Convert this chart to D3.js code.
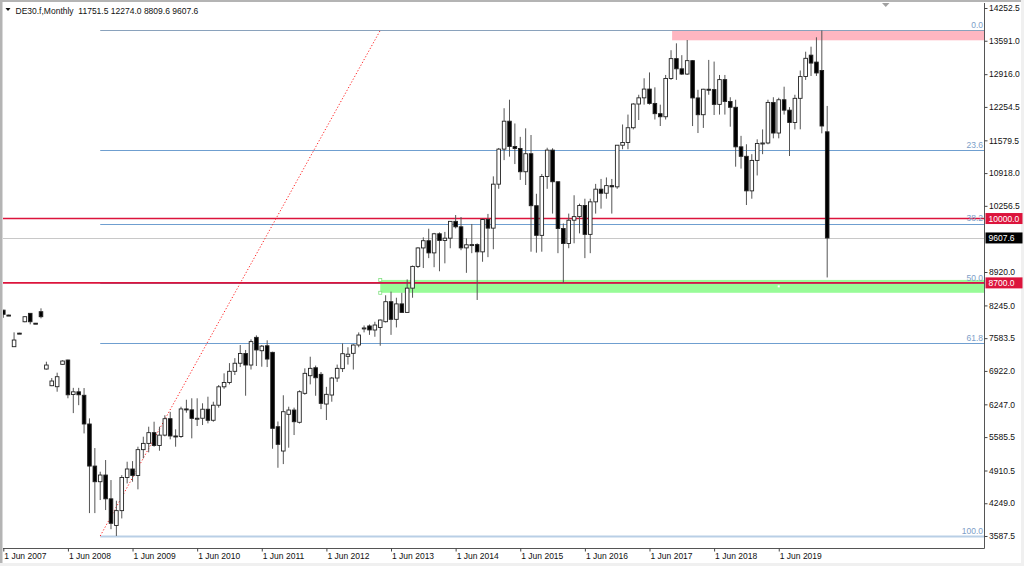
<!DOCTYPE html>
<html><head><meta charset="utf-8">
<script src="https://cdn.jsdelivr.net/npm/d3@7"></script>
<style>
html,body{margin:0;padding:0;background:#fff;}
svg{display:block;font-family:"Liberation Sans",Arial,sans-serif;}
</style></head><body>
<svg id="chart" width="1024" height="566"></svg>
<script>
// ---------- data ----------
const months = [
"Jun 2007","Jul 2007","Aug 2007","Sep 2007","Oct 2007","Nov 2007","Dec 2007",
"Jan 2008","Feb 2008","Mar 2008","Apr 2008","May 2008","Jun 2008","Jul 2008","Aug 2008","Sep 2008","Oct 2008","Nov 2008","Dec 2008",
"Jan 2009","Feb 2009","Mar 2009","Apr 2009","May 2009","Jun 2009","Jul 2009","Aug 2009","Sep 2009","Oct 2009","Nov 2009","Dec 2009",
"Jan 2010","Feb 2010","Mar 2010","Apr 2010","May 2010","Jun 2010","Jul 2010","Aug 2010","Sep 2010","Oct 2010","Nov 2010","Dec 2010",
"Jan 2011","Feb 2011","Mar 2011","Apr 2011","May 2011","Jun 2011","Jul 2011","Aug 2011","Sep 2011","Oct 2011","Nov 2011","Dec 2011",
"Jan 2012","Feb 2012","Mar 2012","Apr 2012","May 2012","Jun 2012","Jul 2012","Aug 2012","Sep 2012","Oct 2012","Nov 2012","Dec 2012",
"Jan 2013","Feb 2013","Mar 2013","Apr 2013","May 2013","Jun 2013","Jul 2013","Aug 2013","Sep 2013","Oct 2013","Nov 2013","Dec 2013",
"Jan 2014","Feb 2014","Mar 2014","Apr 2014","May 2014","Jun 2014","Jul 2014","Aug 2014","Sep 2014","Oct 2014","Nov 2014","Dec 2014",
"Jan 2015","Feb 2015","Mar 2015","Apr 2015","May 2015","Jun 2015","Jul 2015","Aug 2015","Sep 2015","Oct 2015","Nov 2015","Dec 2015",
"Jan 2016","Feb 2016","Mar 2016","Apr 2016","May 2016","Jun 2016","Jul 2016","Aug 2016","Sep 2016","Oct 2016","Nov 2016","Dec 2016",
"Jan 2017","Feb 2017","Mar 2017","Apr 2017","May 2017","Jun 2017","Jul 2017","Aug 2017","Sep 2017","Oct 2017","Nov 2017","Dec 2017",
"Jan 2018","Feb 2018","Mar 2018","Apr 2018","May 2018","Jun 2018","Jul 2018","Aug 2018","Sep 2018","Oct 2018","Nov 2018","Dec 2018",
"Jan 2019","Feb 2019","Mar 2019","Apr 2019","May 2019","Jun 2019","Jul 2019","Aug 2019","Sep 2019","Oct 2019","Nov 2019","Dec 2019",
"Jan 2020","Feb 2020","Mar 2020"];

const open = [
8150,8050,7411,7685,7915,8085,7886,
8118,6960,6623,6603,7055,7142,6445,6500,6430,5850,5000,4684,
4819,4338,3800,4100,4769,4941,4809,5332,5458,5675,5415,5625,
5957,5608,5598,6154,6136,5964,5966,6148,5925,6229,6601,6688,
6914,7077,7273,7041,7600,7330,7430,7297,5795,5304,6045,6132,
5884,6469,6825,6986,6853,6253,6435,6778,6968,7216,7277,7445,
7770,7830,7748,7800,7916,8320,7964,8276,8104,8594,9033,9406,
9552,9306,9692,9556,9603,9943,9833,9407,9470,9474,9327,9981,
9806,10694,11402,11966,11454,11414,10945,11309,10259,9660,10850,11382,
10743,9798,9495,9966,10039,10263,9680,10337,10593,10511,10665,10640,
11481,11535,11834,12313,12438,12615,12325,12118,12056,12829,13230,13024,
12918,13189,12436,12097,12612,12605,12306,12806,12364,12247,11448,11257,
10559,11174,11516,11526,12345,11727,12399,12189,11939,12428,12869,13300,
13160,12990,11751.5];

const high = [
8155,8058,7701,7692,8025,8090,7890,
8186,7108,6778,6886,7135,7150,6580,6580,6576,5964,5364,4886,
5122,4718,4300,4816,5088,5100,5391,5593,5795,5896,5795,6026,
6094,5742,6199,6340,6369,6369,6268,6401,6300,6637,6873,7080,
7180,7445,7345,7560,7640,7445,7540,7310,5900,6430,6199,6180,
6530,6974,7209,7030,6900,6600,6800,7050,7478,7400,7460,7700,
7840,7860,7915,7960,8450,8523,8400,8500,8770,9050,9420,9620,
9794,9710,9720,9730,9950,10071,10030,9600,9890,9500,10000,10093,
10852,11425,12228,12400,11920,11650,11822,11687,10500,10900,11430,11420,
10750,9900,10100,10470,10300,10400,10400,10700,10800,10830,10800,11485,
11900,12100,12330,12500,12833,12951,12650,12300,12900,13400,13539,13300,
13606,13200,12600,12620,13204,13170,12900,12900,12450,12400,11670,11500,
11300,11600,11800,12400,12450,12440,12663,12250,12500,12990,13370,13471,
13661,13800,12274.0];

const low = [
7995,8042,7405,7678,7905,7863,7878,
7983,6950,6615,6502,7050,6369,6070,6230,5660,4050,4050,4314,
4112,3725,3588,3942,4650,4684,4530,5156,5278,5391,5310,5600,
5540,5391,5570,6078,5560,5809,5829,5863,5896,6180,6560,6650,
6839,7000,6421,6950,7021,7007,7000,5350,4966,5040,5371,5627,
5860,6440,6650,6420,6150,5930,6300,6700,6900,7050,6950,7400,
7700,7650,7612,7430,7900,7650,7800,8100,8100,8400,9000,9000,
9200,9017,8935,9095,9400,9800,9360,8903,9300,8355,9127,9220,
9380,10600,11180,11250,11100,10780,10677,9330,9310,9330,10600,10100,
9300,8700,9400,9500,9700,9200,9300,10100,10200,10400,10100,10600,
11400,11400,11800,11990,12300,12300,12000,11869,12000,12800,12800,12900,
12900,11868,11727,11830,12500,12091,12100,12100,11855,11047,11009,10273,
10400,10870,11300,11500,11620,11620,12100,11263,11800,11802,12800,12879,
12880,11721,8809.6];

const close = [
8065,8046,7546,7681,8017,7915,7883,
8017,7041,6718,6805,7122,6440,6500,6440,5850,5000,4684,4819,
4338,3844,4100,4769,4941,4809,5332,5458,5675,5415,5625,5957,
5608,5598,6154,6136,5964,5966,6148,5925,6229,6601,6688,6914,
7077,7273,7041,7514,7345,7423,7162,5762,5439,6098,6132,5896,
6502,6873,6974,6784,6267,6449,6778,6974,7270,7260,7445,7647,
7790,7750,7849,7950,8320,7964,8276,8104,8594,9033,9406,9552,
9306,9692,9556,9603,9943,9833,9407,9470,9474,9327,9981,9806,
10694,11402,11966,11454,11414,10945,11309,10259,9660,10850,11382,10743,
9798,9495,9966,10039,10263,9680,10337,10593,10511,10665,10640,11481,
11535,11834,12313,12438,12615,12325,12118,12056,12829,13230,13024,12918,
13189,12436,12097,12612,12605,12306,12806,12364,12247,11448,11257,10559,
11174,11516,11526,12345,11727,12399,12189,11939,12428,12867,13236,13140,
12940,11869,9607.6];

const xTickLabels = ["1 Jun 2007","1 Jun 2008","1 Jun 2009","1 Jun 2010","1 Jun 2011","1 Jun 2012","1 Jun 2013","1 Jun 2014","1 Jun 2015","1 Jun 2016","1 Jun 2017","1 Jun 2018","1 Jun 2019"];
const xTickIndex = [0,12,24,36,48,60,72,84,96,108,120,132,144];
const yTickValues = [14252.5,13591.0,12916.0,12254.5,11579.5,10918.0,10256.5,8920.0,8245.0,7583.5,6922.0,6247.0,5585.5,4910.5,4249.0,3587.5];

const fibLevels = [0.0,23.6,38.2,50.0,61.8,100.0];
const fibHigh = 13800, fibLow = 3588, fibStartIndex = 18;
const trendStartIndex = 18, trendStartValue = 3588, trendEndIndex = 70, trendEndValue = 13800;
const levelLines = [10000.0, 8700.0];
const lastPrice = 9607.6;
const resistanceZone = [124.2, 13800, 13600];   // start index, top, bottom
const supportZone = [70, 8760, 8500];
const header = "DE30.f,Monthly  11751.5 12274.0 8809.6 9607.6";

// ---------- layout ----------
const L = 3, R = 984.5, T = 3, B = 548.5;
const svg = d3.select("#chart");
const x = d3.scaleLinear().domain([0, 153]).range([3.3, 827.2]);
const y = d3.scaleLinear().domain([3587.5, 14252.5]).range([536, 8]);

// outer frame
svg.append("rect").attr("x",0).attr("y",0).attr("width",1024).attr("height",566).attr("fill","#ffffff");
svg.append("rect").attr("x",0).attr("y",563).attr("width",1024).attr("height",3).attr("fill","#f0f0f0");
svg.append("rect").attr("x",1021).attr("y",0).attr("width",3).attr("height",566).attr("fill","#f0f0f0");
svg.append("rect").attr("x",0).attr("y",0).attr("width",2.5).attr("height",563).attr("fill","#b4b4b4");
svg.append("rect").attr("x",0).attr("y",0).attr("width",1021).attr("height",2).attr("fill","#b4b4b4");

svg.append("clipPath").attr("id","plotclip").append("rect")
  .attr("x",L).attr("y",T).attr("width",R-L).attr("height",B-T);
const plot = svg.append("g").attr("clip-path","url(#plotclip)");

// zones
plot.append("rect").attr("x",x(resistanceZone[0])).attr("y",y(resistanceZone[1]))
  .attr("width",R-x(resistanceZone[0])).attr("height",y(resistanceZone[2])-y(resistanceZone[1]))
  .attr("fill","#ffb6c1");
plot.append("rect").attr("x",x(supportZone[0])).attr("y",y(supportZone[1]))
  .attr("width",R-x(supportZone[0])).attr("height",y(supportZone[2])-y(supportZone[1]))
  .attr("fill","#98fb98");

// fib lines
const fibVal = p => fibHigh - (fibHigh - fibLow) * p / 100;
fibLevels.forEach(p => {
  const yy = Math.round(y(fibVal(p))) + 0.5;
  plot.append("line").attr("x1",x(fibStartIndex)).attr("x2",R).attr("y1",yy).attr("y2",yy)
    .attr("stroke", p === 100 ? "#b9cfe6" : (p === 0 ? "#8aa2bc" : "#6f9fd0"))
    .attr("stroke-width", p === 100 ? 2 : 1);
});

// last price line
const lpY = Math.round(y(lastPrice)) + 0.5;
plot.append("line").attr("x1",L).attr("x2",R).attr("y1",lpY).attr("y2",lpY).attr("stroke","#c8c8c8");

// red level lines
levelLines.forEach(v => {
  const yy = y(v);
  plot.append("line").attr("x1",L).attr("x2",R).attr("y1",yy).attr("y2",yy)
    .attr("stroke","#dc143c").attr("stroke-width",1.6);
});

// fib labels
fibLevels.forEach(p => {
  svg.append("text").attr("x",983).attr("y",y(fibVal(p)) - 2.2)
    .attr("text-anchor","end").attr("font-size","8.5px").attr("fill","#7c9ec8")
    .text(p.toFixed(1));
});

// trend line (dotted)
plot.append("line").attr("x1",x(trendStartIndex)).attr("y1",y(trendStartValue))
  .attr("x2",x(trendEndIndex)).attr("y2",y(trendEndValue))
  .attr("stroke","#ff2020").attr("stroke-width",1).attr("stroke-dasharray","1.2,2");

// zone handles
[supportZone[1], supportZone[2]].forEach(v => {
  plot.append("rect").attr("x",x(supportZone[0])-1.5).attr("y",y(v)-1.5).attr("width",3).attr("height",3)
    .attr("fill","#ffffff").attr("stroke","#7fe07f").attr("stroke-width",0.8);
});
plot.append("rect").attr("x",x(144)-1).attr("y",y((supportZone[1]+supportZone[2])/2)-1).attr("width",2).attr("height",2)
  .attr("fill","#ffffff");

// candles
const bars = d3.range(months.length).map(i => ({i, o: open[i], h: high[i], l: low[i], c: close[i]}));
const cg = plot.append("g");
const bw = 3.6;
cg.selectAll("line.wick").data(bars).join("line").attr("class","wick")
  .attr("x1", d => x(d.i)).attr("x2", d => x(d.i))
  .attr("y1", d => y(d.h)).attr("y2", d => y(d.l))
  .attr("stroke","#555").attr("stroke-width",1);
cg.selectAll("rect.body").data(bars).join("rect").attr("class","body")
  .attr("x", d => x(d.i) - bw/2)
  .attr("y", d => y(Math.max(d.o, d.c)))
  .attr("width", bw)
  .attr("height", d => Math.max(1, Math.abs(y(d.o) - y(d.c))))
  .attr("fill", d => d.c >= d.o ? "#ffffff" : "#000000")
  .attr("stroke", "#222").attr("stroke-width", 0.9);

// borders
svg.append("line").attr("x1",R).attr("x2",R).attr("y1",T).attr("y2",B).attr("stroke","#555");
svg.append("line").attr("x1",L).attr("x2",R).attr("y1",B).attr("y2",B).attr("stroke","#555");

// y axis
const yAxis = d3.axisRight(y).tickValues(yTickValues).tickSize(3).tickPadding(1.5)
  .tickFormat(d => d.toFixed(1));
const gy = svg.append("g").attr("transform",`translate(${R},0)`).call(yAxis);
gy.select(".domain").remove();
gy.selectAll("line").attr("stroke","#444");
gy.selectAll("text").attr("font-size","8.5px").attr("fill","#111").attr("font-family","Liberation Sans, Arial, sans-serif");

// x axis
const xAxis = d3.axisBottom(x).tickValues(xTickIndex).tickSize(3).tickPadding(1.5)
  .tickFormat((d,i) => xTickLabels[i]);
const gx = svg.append("g").attr("transform",`translate(0,${B})`).call(xAxis);
gx.select(".domain").remove();
gx.selectAll("line").attr("stroke","#444");
gx.selectAll("text").attr("text-anchor","start").attr("x",0.5)
  .attr("font-size","8.5px").attr("fill","#111").attr("font-family","Liberation Sans, Arial, sans-serif");

// price boxes
function priceBox(v, fill, label) {
  const yy = y(v);
  svg.append("rect").attr("x",985.5).attr("y",yy-5.5).attr("width",37).attr("height",11).attr("fill",fill);
  svg.append("text").attr("x",988.5).attr("y",yy+3).attr("font-size","8.5px").attr("fill","#ffffff").text(label);
}
priceBox(levelLines[0], "#dc143c", levelLines[0].toFixed(1));
priceBox(lastPrice, "#000000", lastPrice.toFixed(1));
priceBox(levelLines[1], "#dc143c", levelLines[1].toFixed(1));

// header
svg.append("path").attr("d","M5.5,8 L10.5,8 L8,11 Z").attr("fill","#111");
svg.append("text").attr("x",15.5).attr("y",13.5).attr("font-size","8.5px").attr("fill","#111")
  .attr("xml:space","preserve").style("white-space","pre").text(header);

// chart-shift marker
svg.append("path").attr("d","M882,3 L889.5,3 L885.75,7 Z").attr("fill","#a0a0a0");
</script>
</body></html>
